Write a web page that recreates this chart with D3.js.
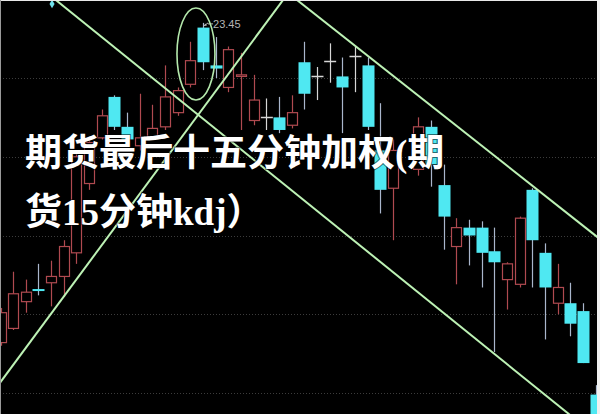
<!DOCTYPE html>
<html><head><meta charset="utf-8">
<script src="https://cdn.jsdelivr.net/npm/d3@7/dist/d3.min.js"></script>
<style>html,body{margin:0;padding:0;background:#000;}svg{display:block;}</style>
</head><body>
<svg id="chart" width="600" height="414"></svg>
<script>
// ---- data (candle slots; null = no bar) ----
const open  = [21.42,21.51,21.68,21.76,21.80,21.84,21.99,22.43,22.72,22.98,22.79,22.67,22.72,22.79,22.88,23.06,23.42,23.18,23.04,23.11,22.83,22.85,22.85,22.80,23.20,23.11,23.21,23.11,23.24,23.18,22.64,22.40,null,22.52,22.79,22.42,22.03,22.15,22.15,22.00,21.82,21.79,22.39,21.99,21.67,21.67,21.62,21.09];
const close = [21.61,21.73,21.74,21.75,21.84,22.03,22.60,22.69,22.86,22.79,22.71,22.72,22.78,22.98,23.02,23.21,23.20,23.16,23.28,23.12,22.96,22.85,22.77,22.88,23.00,23.11,23.21,23.04,23.24,22.79,22.39,22.64,null,22.79,22.55,22.22,22.15,22.10,21.99,21.93,21.92,22.21,22.07,21.77,21.77,21.54,21.29,20.93];
const high  = [21.64,21.87,21.82,21.92,21.94,22.07,22.64,22.72,22.90,22.99,22.88,23.00,22.93,23.18,23.04,23.33,23.45,23.36,23.30,23.26,23.12,22.97,22.98,22.99,23.33,23.17,23.32,23.23,23.30,23.23,22.94,22.71,null,22.85,22.83,22.55,22.21,22.20,22.19,22.15,21.93,22.22,22.40,22.05,21.92,21.80,21.67,21.15];
const low   = [21.40,21.50,21.61,21.72,21.65,21.71,21.92,22.39,22.71,22.77,22.69,22.64,22.71,22.77,22.86,23.04,23.15,23.10,23.01,22.77,22.80,22.77,22.75,22.78,22.90,22.96,23.07,22.75,23.01,22.77,22.24,22.07,null,22.48,22.41,22.01,21.79,21.91,21.77,21.36,21.63,21.77,21.77,21.44,21.60,21.46,21.29,20.93];
const gridPrices = [23.1, 22.6, 22.1, 21.6, 21.1];
// trend lines: [[slot, price],[slot, price]]
const trendLines = [
  [[3.91, 23.625], [45.38, 20.935]],
  [[-0.434, 21.122], [22.87, 23.655]],
  [[23.03, 23.62], [47.75, 22.052]]
];
const highLabel = "23.45";
const highSlot = 16;
const ellipseCenter = [15.44, 23.252];
const ellipseRadii = [1.5, 0.292];
const markerPoint = [4.07, 23.57];
const titleLines = ["期货最后十五分钟加权(期", "货15分钟kdj）"];

// ---- drawing ----
const W = 600, H = 414;
const svg = d3.select("#chart");
const x = d3.scaleLinear().domain([0, 47]).range([0.5, 595.5]);
const y = d3.scaleLinear().domain([21.1, 23.1]).range([393, 78]);

svg.append("rect").attr("width", W).attr("height", H).attr("fill", "#000");

// dotted grid
svg.append("g").selectAll("line").data(gridPrices).join("line")
  .attr("x1", 0).attr("x2", W)
  .attr("y1", d => Math.round(y(d)) + 0.5).attr("y2", d => Math.round(y(d)) + 0.5)
  .attr("stroke", "#3c3c3c").attr("stroke-width", 1).attr("stroke-dasharray", "1,2");

const data = open.map((o, i) => ({i, o, c: close[i], h: high[i], l: low[i]})).filter(d => d.o != null);
const RED = "#b04a50", CYAN = "#4fe8f2", CYANWICK = "#a9b6cc", FLAT = "#d6d6d6";
const bw = 10;
const wickCol = d => d.c > d.o ? RED : (d.c < d.o ? CYANWICK : FLAT);

const g = svg.append("g");
// wicks
g.selectAll("line.wick").data(data).join("line").attr("class", "wick")
  .attr("x1", d => Math.round(x(d.i)) + 0.5).attr("x2", d => Math.round(x(d.i)) + 0.5)
  .attr("y1", d => y(d.h)).attr("y2", d => y(d.l))
  .attr("stroke", wickCol).attr("stroke-width", 1.2);
// up candles: hollow red
g.selectAll("rect.up").data(data.filter(d => d.c > d.o)).join("rect").attr("class", "up")
  .attr("x", d => Math.round(x(d.i)) - bw / 2 + 0.5).attr("width", bw)
  .attr("y", d => y(d.c)).attr("height", d => Math.max(1, y(d.o) - y(d.c)))
  .attr("fill", "#000").attr("stroke", RED).attr("stroke-width", 1.2);
// down candles: filled cyan
g.selectAll("rect.down").data(data.filter(d => d.c < d.o)).join("rect").attr("class", "down")
  .attr("x", d => Math.round(x(d.i)) - bw / 2 - 0.5).attr("width", bw + 2)
  .attr("y", d => y(d.o)).attr("height", d => Math.max(2, y(d.c) - y(d.o)))
  .attr("fill", CYAN);
// flat candles: cross
g.selectAll("line.flat").data(data.filter(d => d.c === d.o)).join("line").attr("class", "flat")
  .attr("x1", d => x(d.i) - bw / 2 - 0.5).attr("x2", d => x(d.i) + bw / 2 + 1.5)
  .attr("y1", d => Math.round(y(d.c)) + 0.5).attr("y2", d => Math.round(y(d.c)) + 0.5)
  .attr("stroke", FLAT).attr("stroke-width", 1.5);

// high label
const hx = x(highSlot), hy = y(high[highSlot]);
svg.append("path").attr("d", `M${hx + 1},${hy + 3} L${hx + 5},${hy}`).attr("stroke", "#b8b8b8").attr("stroke-width", 1);
svg.append("path").attr("d", `M${hx + 1},${hy + 3} l3,-0.5 l-2,-2 z`).attr("fill", "#b8b8b8");
svg.append("line").attr("x1", hx + 5).attr("x2", hx + 10).attr("y1", hy + 1).attr("y2", hy + 1).attr("stroke", "#b8b8b8");
svg.append("text").attr("x", hx + 10).attr("y", hy + 5)
  .attr("font-family", "'Liberation Sans', Arial, sans-serif").attr("font-size", 11)
  .attr("fill", "#b4b4b4").text(highLabel);

// marker
svg.append("path").attr("d", d3.symbol(d3.symbolDiamond, 22)())
  .attr("transform", `translate(${x(markerPoint[0])},${y(markerPoint[1])})`).attr("fill", "#6fe0ea");

// trend lines
svg.append("g").selectAll("line").data(trendLines).join("line")
  .attr("x1", d => x(d[0][0])).attr("y1", d => y(d[0][1]))
  .attr("x2", d => x(d[1][0])).attr("y2", d => y(d[1][1]))
  .attr("stroke", "#bdf2b5").attr("stroke-width", 2);

// ellipse
const ecx = x(ellipseCenter[0]), ecy = y(ellipseCenter[1]);
svg.append("ellipse").attr("cx", ecx).attr("cy", ecy)
  .attr("rx", x(ellipseCenter[0] + ellipseRadii[0]) - ecx)
  .attr("ry", y(ellipseCenter[1] - ellipseRadii[1]) - ecy)
  .attr("fill", "none").attr("stroke", "#b4e8ac").attr("stroke-width", 1.6);

// title text
const tg = svg.append("g").attr("font-family", "'Liberation Serif', 'Noto Sans CJK SC', serif")
  .attr("font-weight", "bold").attr("font-size", 37).attr("fill", "#fff");
tg.selectAll("text").data(titleLines).join("text")
  .attr("x", 25).attr("y", (d, i) => 166 + i * 59)
  .attr("stroke", "rgba(0,0,0,0.55)").attr("stroke-width", 2).attr("paint-order", "stroke")
  .text(d => d);

// frame
svg.append("line").attr("x1", 0).attr("x2", W).attr("y1", 0.5).attr("y2", 0.5).attr("stroke", "#e8e8e8");
svg.append("line").attr("x1", 0.5).attr("x2", 0.5).attr("y1", 0).attr("y2", H).attr("stroke", "#9a9a9a");
svg.append("line").attr("x1", 598.5).attr("x2", 598.5).attr("y1", 0).attr("y2", H).attr("stroke", "#f0f0f0").attr("stroke-width", 3);
</script>
</body></html>
